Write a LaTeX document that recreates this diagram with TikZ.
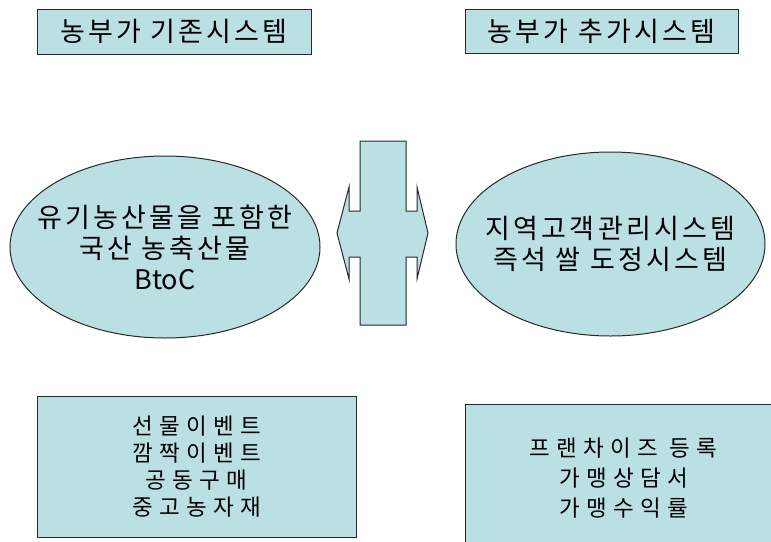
\documentclass[tikz,border=0pt]{standalone}
\usepackage{fontspec}
\newfontfamily\kr[LetterSpace=12]{Noto Sans CJK KR}
\newfontfamily\krn{Noto Sans CJK KR}
\newfontfamily\krs[LetterSpace=28]{Noto Sans CJK KR}
\usetikzlibrary{shapes.geometric}
\definecolor{boxfill}{RGB}{187,224,227}
\definecolor{edge}{RGB}{40,40,40}
\tikzset{
  shapebase/.style={draw=edge, fill=boxfill, line width=1pt, inner sep=0pt, align=center, text=black},
  titlebox/.style={shapebase, rectangle, font=\kr\fontsize{27}{30}\selectfont},
  bubble/.style={shapebase, ellipse},
  bubbletext/.style={inner sep=0pt, align=center, text=black, font=\kr\fontsize{27}{31}\selectfont},
  listbox/.style={shapebase, rectangle, font=\krs\fontsize{22.5}{27}\selectfont},
}
\begin{document}
\begin{tikzpicture}[x=1pt,y=-1pt]
\clip (0,0) rectangle (771,541);
\fill[white] (0,0) rectangle (771,541);
\node[titlebox, minimum width=274pt, minimum height=45pt] (t1) at (174,31.5) {농부가 기존시스템};
\node[titlebox, minimum width=273pt, minimum height=44pt] (t2) at (601.5,31) {농부가 추가시스템};
\node[bubble, minimum width=310pt, minimum height=182pt] (e1) at (165,247) {};
\node[bubbletext] (e1t) at (e1.center) {유기농산물을 포함한\\국산 농축산물\\{\krn BtoC}};
\node[bubble, minimum width=309pt, minimum height=184pt] (e2) at (610.5,244) {};
\node[bubbletext] (e2t) at (e2.center) {지역고객관리시스템\\즉석 쌀 도정시스템};
\draw[draw=edge, fill=boxfill, line width=1pt]
  (360,141) -- (406,141) -- (406,211) -- (417,211) -- (417,187) -- (428,233)
  -- (417,279) -- (417,257) -- (406,257) -- (406,325) -- (360,325) -- (360,257)
  -- (349,257) -- (349,279) -- (337,233) -- (349,187) -- (349,211) -- (360,211) -- cycle;
\node[listbox, minimum width=319pt, minimum height=141pt] (b1) at (196.5,466.5) {선물이벤트\\깜짝이벤트\\공동구매\\중고농자재};
\node[listbox, minimum width=317pt, minimum height=149pt, font=\krs\fontsize{22.5}{30}\selectfont] (b2) at (623.5,478.5) {프랜차이즈 등록\\가맹상담서\\가맹수익률};
\end{tikzpicture}
\end{document}
